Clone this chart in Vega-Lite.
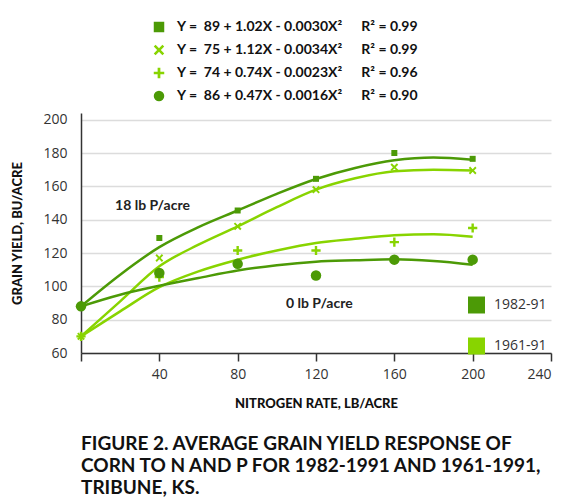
{
  "$schema": "https://vega.github.io/schema/vega-lite/v6.json",
  "width": 470,
  "height": 240,
  "autosize": {"type": "none"},
  "padding": {"left": 81, "top": 113, "right": 19, "bottom": 147},
  "background": "white",
  "title": {
    "text": ["FIGURE 2. AVERAGE GRAIN YIELD RESPONSE OF", "CORN TO N AND P FOR 1982-1991 AND 1961-1991,", "TRIBUNE, KS."],
    "orient": "bottom",
    "anchor": "start",
    "frame": "group",
    "font": "Lato",
    "fontSize": 19,
    "fontWeight": "bold",
    "lineHeight": 22,
    "color": "#111111",
    "offset": 25
  },
  "datasets": {
    "points": [
      {"eq": "Y =\u00a0 89 + 1.02X - 0.0030X²\u2003\u2002\u2009R² = 0.99", "curve": "a", "x": 0, "y": 88},
      {"eq": "Y =\u00a0 89 + 1.02X - 0.0030X²\u2003\u2002\u2009R² = 0.99", "curve": "a", "x": 40, "y": 129},
      {"eq": "Y =\u00a0 89 + 1.02X - 0.0030X²\u2003\u2002\u2009R² = 0.99", "curve": "a", "x": 80, "y": 145.5},
      {"eq": "Y =\u00a0 89 + 1.02X - 0.0030X²\u2003\u2002\u2009R² = 0.99", "curve": "a", "x": 120, "y": 164.5},
      {"eq": "Y =\u00a0 89 + 1.02X - 0.0030X²\u2003\u2002\u2009R² = 0.99", "curve": "a", "x": 160, "y": 180},
      {"eq": "Y =\u00a0 89 + 1.02X - 0.0030X²\u2003\u2002\u2009R² = 0.99", "curve": "a", "x": 200, "y": 176.5},
      {"eq": "Y =\u00a0 75 + 1.12X - 0.0034X²\u2003\u2002\u2009R² = 0.99", "curve": "b", "x": 0, "y": 70},
      {"eq": "Y =\u00a0 75 + 1.12X - 0.0034X²\u2003\u2002\u2009R² = 0.99", "curve": "b", "x": 40, "y": 117},
      {"eq": "Y =\u00a0 75 + 1.12X - 0.0034X²\u2003\u2002\u2009R² = 0.99", "curve": "b", "x": 80, "y": 136},
      {"eq": "Y =\u00a0 75 + 1.12X - 0.0034X²\u2003\u2002\u2009R² = 0.99", "curve": "b", "x": 120, "y": 158},
      {"eq": "Y =\u00a0 75 + 1.12X - 0.0034X²\u2003\u2002\u2009R² = 0.99", "curve": "b", "x": 160, "y": 171.5},
      {"eq": "Y =\u00a0 75 + 1.12X - 0.0034X²\u2003\u2002\u2009R² = 0.99", "curve": "b", "x": 200, "y": 169.5},
      {"eq": "Y =\u00a0 74 + 0.74X - 0.0023X²\u2003\u2002\u2009R² = 0.96", "curve": "c", "x": 0, "y": 70},
      {"eq": "Y =\u00a0 74 + 0.74X - 0.0023X²\u2003\u2002\u2009R² = 0.96", "curve": "c", "x": 40, "y": 105.5},
      {"eq": "Y =\u00a0 74 + 0.74X - 0.0023X²\u2003\u2002\u2009R² = 0.96", "curve": "c", "x": 80, "y": 121.5},
      {"eq": "Y =\u00a0 74 + 0.74X - 0.0023X²\u2003\u2002\u2009R² = 0.96", "curve": "c", "x": 120, "y": 121.5},
      {"eq": "Y =\u00a0 74 + 0.74X - 0.0023X²\u2003\u2002\u2009R² = 0.96", "curve": "c", "x": 160, "y": 126.5},
      {"eq": "Y =\u00a0 74 + 0.74X - 0.0023X²\u2003\u2002\u2009R² = 0.96", "curve": "c", "x": 200, "y": 135},
      {"eq": "Y =\u00a0 86 + 0.47X - 0.0016X²\u2003\u2002\u2009R² = 0.90", "curve": "d", "x": 0, "y": 88},
      {"eq": "Y =\u00a0 86 + 0.47X - 0.0016X²\u2003\u2002\u2009R² = 0.90", "curve": "d", "x": 40, "y": 108},
      {"eq": "Y =\u00a0 86 + 0.47X - 0.0016X²\u2003\u2002\u2009R² = 0.90", "curve": "d", "x": 80, "y": 113.5},
      {"eq": "Y =\u00a0 86 + 0.47X - 0.0016X²\u2003\u2002\u2009R² = 0.90", "curve": "d", "x": 120, "y": 106.5},
      {"eq": "Y =\u00a0 86 + 0.47X - 0.0016X²\u2003\u2002\u2009R² = 0.90", "curve": "d", "x": 160, "y": 116},
      {"eq": "Y =\u00a0 86 + 0.47X - 0.0016X²\u2003\u2002\u2009R² = 0.90", "curve": "d", "x": 200, "y": 116}
    ],
    "curves": [
      {"curve": "a", "period": "1982-91", "x": 0, "y": 88},
      {"curve": "a", "period": "1982-91", "x": 20, "y": 107},
      {"curve": "a", "period": "1982-91", "x": 40, "y": 123.5},
      {"curve": "a", "period": "1982-91", "x": 60, "y": 135.5},
      {"curve": "a", "period": "1982-91", "x": 80, "y": 145.5},
      {"curve": "a", "period": "1982-91", "x": 100, "y": 155.5},
      {"curve": "a", "period": "1982-91", "x": 120, "y": 164.4},
      {"curve": "a", "period": "1982-91", "x": 140, "y": 171},
      {"curve": "a", "period": "1982-91", "x": 160, "y": 175.6},
      {"curve": "a", "period": "1982-91", "x": 180, "y": 177.3},
      {"curve": "a", "period": "1982-91", "x": 200, "y": 176},
      {"curve": "b", "period": "1961-91", "x": 0, "y": 70},
      {"curve": "b", "period": "1961-91", "x": 20, "y": 91},
      {"curve": "b", "period": "1961-91", "x": 40, "y": 112},
      {"curve": "b", "period": "1961-91", "x": 60, "y": 125},
      {"curve": "b", "period": "1961-91", "x": 80, "y": 136},
      {"curve": "b", "period": "1961-91", "x": 100, "y": 147.5},
      {"curve": "b", "period": "1961-91", "x": 120, "y": 158},
      {"curve": "b", "period": "1961-91", "x": 140, "y": 164.8},
      {"curve": "b", "period": "1961-91", "x": 160, "y": 169},
      {"curve": "b", "period": "1961-91", "x": 180, "y": 170},
      {"curve": "b", "period": "1961-91", "x": 200, "y": 169.5},
      {"curve": "c", "period": "1961-91", "x": 0, "y": 70},
      {"curve": "c", "period": "1961-91", "x": 20, "y": 85},
      {"curve": "c", "period": "1961-91", "x": 40, "y": 99.5},
      {"curve": "c", "period": "1961-91", "x": 60, "y": 109},
      {"curve": "c", "period": "1961-91", "x": 80, "y": 116},
      {"curve": "c", "period": "1961-91", "x": 100, "y": 121.5},
      {"curve": "c", "period": "1961-91", "x": 120, "y": 126},
      {"curve": "c", "period": "1961-91", "x": 140, "y": 128.5},
      {"curve": "c", "period": "1961-91", "x": 160, "y": 130.6},
      {"curve": "c", "period": "1961-91", "x": 180, "y": 131.3},
      {"curve": "c", "period": "1961-91", "x": 200, "y": 129.8},
      {"curve": "d", "period": "1982-91", "x": 0, "y": 88},
      {"curve": "d", "period": "1982-91", "x": 20, "y": 95},
      {"curve": "d", "period": "1982-91", "x": 40, "y": 100.3},
      {"curve": "d", "period": "1982-91", "x": 60, "y": 105},
      {"curve": "d", "period": "1982-91", "x": 80, "y": 109.5},
      {"curve": "d", "period": "1982-91", "x": 100, "y": 112.7},
      {"curve": "d", "period": "1982-91", "x": 120, "y": 114.8},
      {"curve": "d", "period": "1982-91", "x": 140, "y": 115.6},
      {"curve": "d", "period": "1982-91", "x": 160, "y": 116.2},
      {"curve": "d", "period": "1982-91", "x": 180, "y": 115.2},
      {"curve": "d", "period": "1982-91", "x": 200, "y": 113}
    ],
    "notes": [
      {"label": "18 lb P/acre", "x": 36.5, "y": 148.4},
      {"label": "0 lb P/acre", "x": 121.7, "y": 89.6}
    ]
  },
  "config": {
    "view": {"stroke": null},
    "font": "Lato",
    "axis": {
      "labelFont": "Open Sans",
      "labelFontSize": 14,
      "labelColor": "#333333",
      "titleFont": "Lato",
      "titleFontSize": 13,
      "titleFontWeight": 900,
      "titleColor": "#111111",
      "domainColor": "#333333",
      "domainWidth": 1.5,
      "tickColor": "#333333",
      "tickWidth": 1.5
    },
    "legend": {"padding": 0}
  },
  "encoding": {
    "x": {
      "field": "x",
      "type": "quantitative",
      "scale": {"domain": [0, 240], "nice": false, "zero": false},
      "axis": {
        "title": "NITROGEN RATE, LB/ACRE",
        "values": [0, 40, 80, 120, 160, 200, 240],
        "labelExpr": "datum.value == 0 ? '' : datum.label",
        "grid": false,
        "tickSize": 8,
        "labelPadding": 6,
        "titlePadding": 16
      }
    },
    "y": {
      "field": "y",
      "type": "quantitative",
      "scale": {"domain": [60, 204], "nice": false, "zero": false},
      "axis": {
        "title": "GRAIN YIELD, BU/ACRE",
        "values": [60, 80, 100, 120, 140, 160, 180, 200],
        "grid": true,
        "gridColor": "#dcdcdc",
        "gridWidth": 1.5,
        "ticks": false,
        "labelPadding": 14,
        "titlePadding": 18
      }
    }
  },
  "layer": [
    {
      "data": {"name": "curves"},
      "mark": {"type": "line", "interpolate": "monotone", "strokeWidth": 2.5},
      "encoding": {
        "stroke": {
          "field": "period",
          "type": "nominal",
          "scale": {"domain": ["1982-91", "1961-91"], "range": ["#4c9a06", "#88d400"]},
          "legend": {
            "title": null,
            "orient": "none",
            "legendX": 387,
            "legendY": 183.5,
            "direction": "vertical",
            "symbolType": "square",
            "symbolSize": 1,
            "symbolStrokeWidth": 16,
            "rowPadding": -25.8,
            "labelFont": "Open Sans",
            "labelFontSize": 14,
            "labelColor": "#333333",
            "labelOffset": 9
          }
        },
        "detail": {"field": "curve", "type": "nominal"}
      }
    },
    {
      "data": {"name": "points"},
      "mark": {"type": "point", "filled": true, "opacity": 1, "strokeWidth": 0},
      "encoding": {
        "color": {
          "field": "eq",
          "type": "nominal",
          "scale": {
            "domain": [
              "Y =\u00a0 89 + 1.02X - 0.0030X²\u2003\u2002\u2009R² = 0.99",
              "Y =\u00a0 75 + 1.12X - 0.0034X²\u2003\u2002\u2009R² = 0.99",
              "Y =\u00a0 74 + 0.74X - 0.0023X²\u2003\u2002\u2009R² = 0.96",
              "Y =\u00a0 86 + 0.47X - 0.0016X²\u2003\u2002\u2009R² = 0.90"
            ],
            "range": ["#4c9a06", "#88d400", "#88d400", "#4c9a06"]
          },
          "legend": {
            "title": null,
            "orient": "none",
            "legendX": 71,
            "legendY": -93,
            "direction": "vertical",
            "symbolSize": 110,
            "symbolStrokeWidth": 0,
            "symbolOpacity": 1,
            "rowPadding": 9,
            "labelFont": "Lato",
            "labelFontSize": 14,
            "labelFontWeight": "bold",
            "labelColor": "#111111",
            "labelOffset": 11,
            "labelLimit": 400
          }
        },
        "shape": {
          "field": "eq",
          "type": "nominal",
          "scale": {
            "domain": [
              "Y =\u00a0 89 + 1.02X - 0.0030X²\u2003\u2002\u2009R² = 0.99",
              "Y =\u00a0 75 + 1.12X - 0.0034X²\u2003\u2002\u2009R² = 0.99",
              "Y =\u00a0 74 + 0.74X - 0.0023X²\u2003\u2002\u2009R² = 0.96",
              "Y =\u00a0 86 + 0.47X - 0.0016X²\u2003\u2002\u2009R² = 0.90"
            ],
            "range": [
              "square",
              "M0,-0.35L0.65,-1L1,-0.65L0.35,0L1,0.65L0.65,1L0,0.35L-0.65,1L-1,0.65L-0.35,0L-1,-0.65L-0.65,-1Z",
              "M-1,-0.26H-0.26V-1H0.26V-0.26H1V0.26H0.26V1H-0.26V0.26H-1Z",
              "circle"
            ]
          },
          "legend": {
            "title": null,
            "orient": "none",
            "legendX": 71,
            "legendY": -93,
            "direction": "vertical",
            "symbolSize": 110,
            "symbolStrokeWidth": 0,
            "symbolOpacity": 1,
            "rowPadding": 9,
            "labelFont": "Lato",
            "labelFontSize": 14,
            "labelFontWeight": "bold",
            "labelColor": "#111111",
            "labelOffset": 11,
            "labelLimit": 400
          }
        },
        "size": {
          "field": "curve",
          "type": "nominal",
          "scale": {"domain": ["a", "b", "c", "d"], "range": [36, 110, 105, 75]},
          "legend": null
        }
      }
    },
    {
      "data": {"name": "notes"},
      "mark": {"type": "text", "font": "Lato", "fontSize": 14, "fontWeight": "bold", "color": "#222222", "align": "center", "baseline": "middle"},
      "encoding": {
        "text": {"field": "label", "type": "nominal"}
      }
    }
  ]
}
